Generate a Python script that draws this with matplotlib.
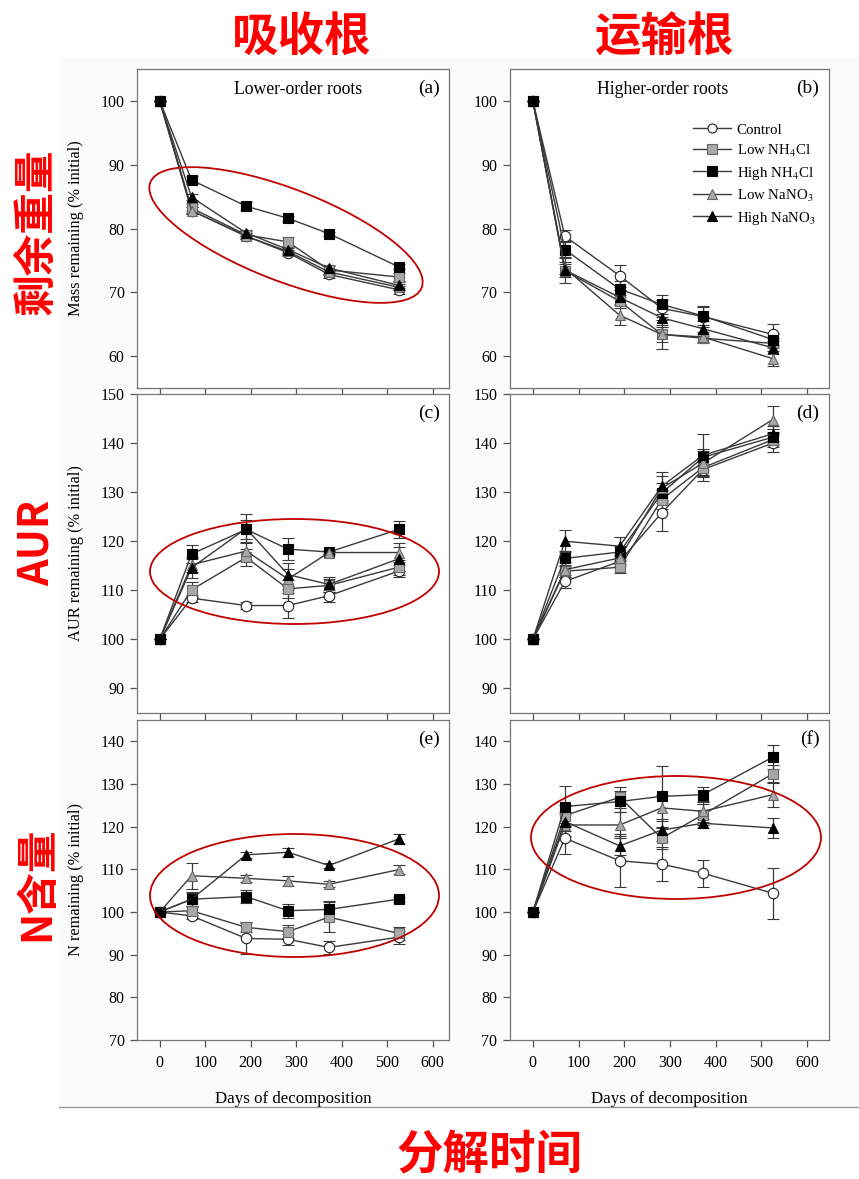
import matplotlib
matplotlib.use('Agg')
import matplotlib.pyplot as plt
from matplotlib.patches import Ellipse, Rectangle
from matplotlib.lines import Line2D

plt.rcParams['font.family'] = ['Liberation Serif', 'DejaVu Serif']
plt.rcParams['mathtext.fontset'] = 'stix'

W, H = 859, 1179

days = [0, 70, 190, 282, 372, 525]
series_names = ['Control', 'Low NH$_4$Cl', 'High NH$_4$Cl', 'Low NaNO$_3$', 'High NaNO$_3$']

# (a) mass remaining, lower-order roots
mass_low = [
    [100, 82.8, 78.8, 76.2, 72.8, 70.4],
    [100, 83.2, 79.0, 77.9, 73.5, 72.4],
    [100, 87.6, 83.5, 81.6, 79.2, 74.0],
    [100, 82.8, 78.8, 76.4, 73.2, 70.8],
    [100, 84.9, 79.3, 76.7, 73.8, 71.1],
]
mass_low_err = [
    [0, 0.6, 0.5, 0.5, 0.5, 0.6],
    [0, 0.7, 0.6, 0.8, 0.6, 0.6],
    [0, 0.6, 0.6, 0.4, 0.3, 0.4],
    [0, 0.6, 0.5, 0.5, 0.5, 0.5],
    [0, 0.5, 0.5, 0.5, 0.5, 0.5],
]
# (b) mass remaining, higher-order roots
mass_high = [
    [100, 78.8, 72.6, 67.5, 66.2, 63.4],
    [100, 73.4, 68.6, 63.4, 62.8, 62.0],
    [100, 76.7, 70.5, 68.1, 66.3, 62.6],
    [100, 73.8, 66.4, 63.4, 63.0, 59.6],
    [100, 73.5, 69.2, 66.0, 64.3, 61.3],
]
mass_high_err = [
    [0, 0.9, 1.7, 1.3, 1.6, 1.6],
    [0, 1.0, 1.0, 1.2, 0.7, 0.8],
    [0, 1.3, 1.3, 1.5, 1.4, 1.0],
    [0, 1.0, 1.6, 2.3, 0.8, 1.2],
    [0, 2.0, 1.1, 1.2, 1.2, 1.0],
]
# (c) AUR remaining, lower-order roots
aur_low = [
    [100, 108.4, 106.9, 106.9, 108.9, 113.9],
    [100, 110.1, 116.7, 110.3, 111.0, 114.7],
    [100, 117.4, 122.4, 118.4, 117.8, 122.4],
    [100, 115.2, 118.0, 112.3, 117.7, 117.7],
    [100, 114.6, 122.6, 113.2, 111.2, 116.4],
]
aur_low_err = [
    [0, 0.7, 0.8, 2.5, 1.2, 1.2],
    [0, 1.5, 1.8, 1.8, 1.3, 1.5],
    [0, 1.8, 2.0, 2.3, 0.4, 1.8],
    [0, 1.5, 1.8, 2.0, 0.4, 2.0],
    [0, 2.0, 3.0, 2.3, 1.6, 2.5],
]
# (d) AUR remaining, higher-order roots
aur_high = [
    [100, 111.8, 115.9, 125.8, 134.6, 140.0],
    [100, 113.9, 114.7, 128.5, 135.0, 140.7],
    [100, 116.5, 117.8, 129.8, 137.1, 141.2],
    [100, 114.2, 116.6, 130.8, 135.9, 144.8],
    [100, 120.0, 119.0, 131.2, 137.5, 141.9],
]
aur_high_err = [
    [0, 1.3, 1.0, 3.8, 2.3, 1.8],
    [0, 1.2, 1.2, 2.0, 2.0, 1.5],
    [0, 1.5, 1.3, 2.0, 1.6, 1.6],
    [0, 1.5, 1.2, 2.5, 2.5, 2.7],
    [0, 2.2, 1.9, 3.0, 4.3, 1.5],
]
# (e) N remaining, lower-order roots
n_low = [
    [100, 99.1, 93.8, 93.6, 91.7, 94.1],
    [100, 100.3, 96.4, 95.4, 98.8, 95.0],
    [100, 103.0, 103.6, 100.3, 100.6, 103.0],
    [100, 108.5, 107.9, 107.3, 106.5, 109.9],
    [100, 103.0, 113.4, 114.0, 110.9, 117.1],
]
n_low_err = [
    [0, 0.8, 3.6, 1.3, 1.6, 1.5],
    [0, 1.0, 1.2, 1.5, 3.5, 1.6],
    [0, 1.8, 1.6, 1.6, 2.0, 0.6],
    [0, 3.0, 0.8, 1.1, 0.7, 1.0],
    [0, 1.5, 0.7, 1.0, 0.6, 1.1],
]
# (f) N remaining, higher-order roots
n_high = [
    [100, 117.3, 112.0, 111.2, 109.1, 104.4],
    [100, 122.6, 126.9, 117.3, 122.8, 132.4],
    [100, 124.7, 125.9, 127.1, 127.5, 136.3],
    [100, 120.4, 120.4, 124.4, 123.6, 127.5],
    [100, 121.2, 115.5, 119.2, 120.8, 119.7],
]
n_high_err = [
    [0, 3.6, 6.2, 4.0, 3.2, 6.0],
    [0, 2.5, 2.5, 2.5, 2.5, 2.0],
    [0, 4.8, 2.5, 7.2, 1.7, 2.8],
    [0, 2.5, 3.0, 3.0, 2.5, 2.8],
    [0, 2.2, 2.2, 2.5, 1.0, 2.3],
]

styles = [
    dict(marker='o', mfc='white', mec='#222222'),
    dict(marker='s', mfc='#a8a8a8', mec='#666666'),
    dict(marker='s', mfc='black', mec='black'),
    dict(marker='^', mfc='#a8a8a8', mec='#666666'),
    dict(marker='^', mfc='black', mec='black'),
]


def px_axes(x0, y0, x1, y1):
    return [x0 / W, 1 - y1 / H, (x1 - x0) / W, (y1 - y0) / H]


def draw_panel(ax, values, errors, xlim, ylim, yticks, show_xlabels):
    for vals, errs, st in zip(values, errors, styles):
        ax.errorbar(days, vals, yerr=errs, color='#3a3a3a', lw=1.0,
                    elinewidth=0.9, capsize=4, capthick=0.9,
                    marker=st['marker'], mfc=st['mfc'], mec=st['mec'],
                    ms=7.5, mew=0.8)
    ax.set_xlim(*xlim)
    ax.set_ylim(*ylim)
    ax.set_xticks(range(0, 700, 100))
    ax.set_yticks(yticks)
    if not show_xlabels:
        ax.set_xticklabels([])
    for s in ax.spines.values():
        s.set_color('#777777')
        s.set_linewidth(0.9)
    ax.tick_params(direction='out', length=5, width=0.9, color='#555555',
                   labelsize=11.5, pad=4)
    ax.tick_params(axis='x', pad=6)


fig = plt.figure(figsize=(W / 100, H / 100), dpi=100)

# faint background of the pasted figure
fig.add_artist(Rectangle((59 / W, 1 - 1107 / H), 800 / W, 1050 / H,
                         transform=fig.transFigure, facecolor='#fbfbfb',
                         edgecolor='none', zorder=-10))
fig.add_artist(Line2D([59 / W, 1], [1 - 1107 / H, 1 - 1107 / H],
                      transform=fig.transFigure, color='#999999', lw=1.0))

rows_px = [(69, 388), (394, 713), (720, 1040)]
left_px = (137, 449)
right_px = (510, 829)
data_rows = [
    (mass_low, mass_low_err, mass_high, mass_high_err, (55, 105), range(60, 101, 10)),
    (aur_low, aur_low_err, aur_high, aur_high_err, (85, 150), range(90, 151, 10)),
    (n_low, n_low_err, n_high, n_high_err, (70, 145), range(70, 141, 10)),
]
ylabels = ['Mass remaining (% initial)', 'AUR remaining (% initial)', 'N remaining (% initial)']
letters = [('(a)', '(b)'), ('(c)', '(d)'), ('(e)', '(f)')]

axes = []
for i, ((y0, y1), (lv, le, hv, he, ylim, yt)) in enumerate(zip(rows_px, data_rows)):
    last = i == 2
    axl = fig.add_axes(px_axes(left_px[0], y0, left_px[1], y1))
    draw_panel(axl, lv, le, (-50, 636), ylim, yt, last)
    axr = fig.add_axes(px_axes(right_px[0], y0, right_px[1], y1))
    draw_panel(axr, hv, he, (-50, 648), ylim, yt, last)
    axl.set_ylabel(ylabels[i], fontsize=11.8)
    axl.yaxis.set_label_coords(-0.17, 0.5)
    axl.text(0.97, 0.94, letters[i][0], transform=axl.transAxes, ha='right', va='center', fontsize=14)
    axr.text(0.97, 0.94, letters[i][1], transform=axr.transAxes, ha='right', va='center', fontsize=14)
    if last:
        for ax in (axl, axr):
            ax.set_xlabel('Days of decomposition', fontsize=12.2)
            ax.xaxis.set_label_coords(0.5, -0.16)
    axes.append((axl, axr))

axes[0][0].text(0.515, 0.937, 'Lower-order roots', transform=axes[0][0].transAxes,
                ha='center', va='center', fontsize=12.7)
axes[0][1].text(0.48, 0.937, 'Higher-order roots', transform=axes[0][1].transAxes,
                ha='center', va='center', fontsize=12.7)

handles = [Line2D([], [], color='#3a3a3a', lw=1.0, marker=st['marker'], mfc=st['mfc'],
                  mec=st['mec'], ms=6.5, mew=0.8) for st in styles]
axes[0][1].legend(handles, series_names, loc='upper left', bbox_to_anchor=(0.575, 0.83),
                  frameon=False, fontsize=10.7, handlelength=2.5, handletextpad=0.4,
                  labelspacing=0.4, borderpad=0, borderaxespad=0)

# red ellipses, in figure pixels (converted to inches)
red = '#c00000'
ell = [  # cx, cy, width, height, angle
    (286, 235, 291, 92, -21.2),
    (294.5, 571.5, 289, 105, 0),
    (294.5, 895.5, 289, 123, 0),
    (676, 837.5, 290, 123, 0),
]
for cx, cy, w, h, ang in ell:
    fig.add_artist(Ellipse((cx / 100, (H - cy) / 100), w / 100, h / 100, angle=ang,
                           transform=fig.dpi_scale_trans, fill=False,
                           edgecolor=red, lw=1.3))

cjk = dict(family=['Noto Sans CJK SC', 'DejaVu Sans'], weight='bold', color='#ff0000')
fig.text(302 / W, 1 - 37 / H, '吸收根', ha='center', va='center', fontsize=33.5, **cjk)
fig.text(665 / W, 1 - 37 / H, '运输根', ha='center', va='center', fontsize=33.5, **cjk)
fig.text(37 / W, 1 - 232 / H, '剩余重量', ha='center', va='center', rotation=90, fontsize=30, **cjk)
fig.text(37 / W, 1 - 543 / H, 'AUR', ha='center', va='center', rotation=90, fontsize=30, **cjk)
fig.text(37 / W, 1 - 884 / H, 'N含量', ha='center', va='center', rotation=90, fontsize=30, **cjk)
fig.text(490 / W, 1 - 1155 / H, '分解时间', ha='center', va='center', fontsize=33.5, **cjk)

fig.savefig('out.png', dpi=100)
